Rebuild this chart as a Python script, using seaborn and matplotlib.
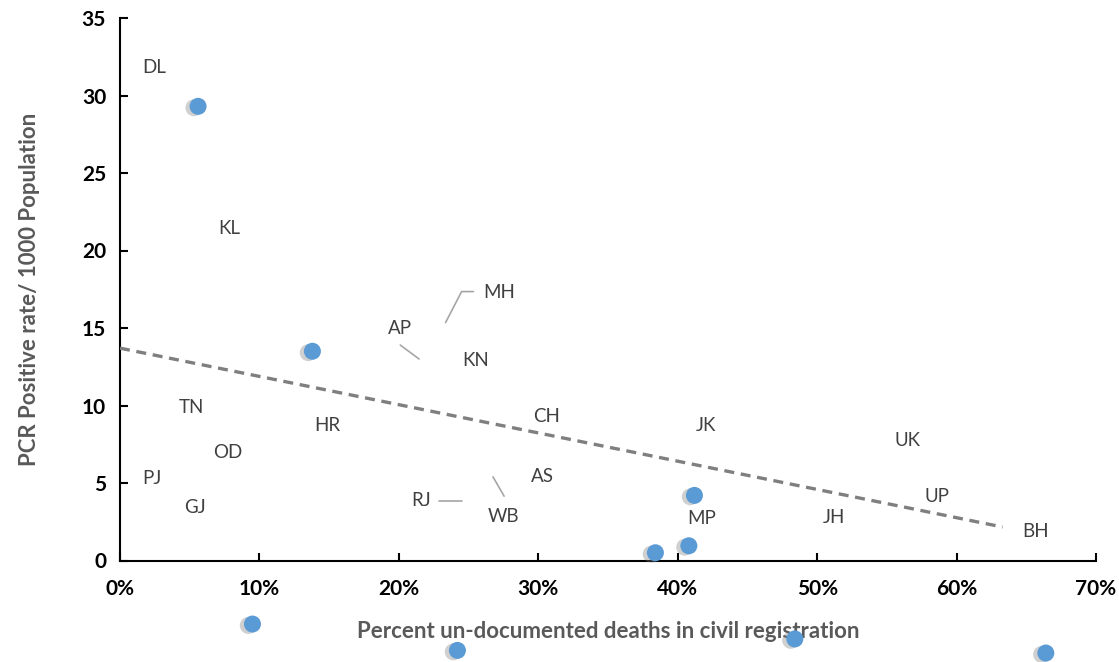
import matplotlib
matplotlib.use("Agg")
import matplotlib.pyplot as plt
import matplotlib.patheffects as pe
from matplotlib.ticker import FuncFormatter
import seaborn as sns
import pandas as pd
import numpy as np

# Marker positions (as drawn in the reference)
point_x = [0.056, 0.138, 0.412, 0.408, 0.384, 0.095, 0.242, 0.484, 0.664]
point_y = [29.3, 13.5, 4.2, 0.95, 0.5, -4.1, -5.8, -5.06, -5.97]

# State labels and their positions
states = ["DL", "KL", "MH", "AP", "KN", "TN", "HR", "CH", "JK", "UK",
          "OD", "PJ", "AS", "UP", "RJ", "GJ", "WB", "MP", "JH", "BH"]
label_x = [0.0244, 0.078, 0.272, 0.201, 0.255, 0.051, 0.1485, 0.306, 0.420, 0.565,
           0.077, 0.023, 0.303, 0.586, 0.216, 0.054, 0.275, 0.417, 0.512, 0.657]
label_y = [31.8, 21.45, 17.3, 15.0, 12.9, 9.84, 8.74, 9.3, 8.68, 7.77,
           6.94, 5.26, 5.45, 4.1, 3.84, 3.39, 2.87, 2.74, 2.8, 1.9]

# Leader lines
leader_MH_x = [0.2335, 0.245, 0.2535]
leader_MH_y = [15.35, 17.35, 17.35]
leader_AP_x = [0.201, 0.2145]
leader_AP_y = [13.9, 13.0]
leader_RJ_x = [0.2285, 0.245]
leader_RJ_y = [3.85, 3.85]
leader_WB_x = [0.2675, 0.2755]
leader_WB_y = [5.4, 4.15]

# Trend line
trend_x = [0.0, 0.633]
trend_y = [13.7, 2.16]

x_ticks = [0, 0.1, 0.2, 0.3, 0.4, 0.5, 0.6, 0.7]
y_ticks = [0, 5, 10, 15, 20, 25, 30, 35]

sns.set_style("white")
plt.rcParams['font.family'] = ['Lato', 'DejaVu Sans']

fig = plt.figure(figsize=(11.19, 6.62), dpi=100)
ax = fig.add_axes([120/1119, 1 - 560.5/662, (1096-120)/1119, (560.5-18)/662])

pts = pd.DataFrame({"x": point_x, "y": point_y})
sns.scatterplot(data=pts, x="x", y="y", ax=ax, s=150, color="#5B9BD5",
                edgecolor="none", clip_on=False, zorder=5,
                path_effects=[pe.SimplePatchShadow(offset=(-3, -1), shadow_rgbFace="#7a7a7a", alpha=0.35),
                              pe.Normal()])

tr = pd.DataFrame({"x": trend_x, "y": trend_y})
sns.lineplot(data=tr, x="x", y="y", ax=ax, color="#7F7F7F", linewidth=2.4,
             linestyle=(0, (3, 2)), zorder=3)

for s, lx, ly in zip(states, label_x, label_y):
    ax.text(lx, ly, s, ha="center", va="center", fontsize=13.5, color="#404040")

for lx, ly in [(leader_MH_x, leader_MH_y), (leader_AP_x, leader_AP_y),
               (leader_RJ_x, leader_RJ_y), (leader_WB_x, leader_WB_y)]:
    ax.plot(lx, ly, color="#A6A6A6", linewidth=1.2)

ax.set_xlim(0, 0.7)
ax.set_ylim(0, 35)
ax.set_xticks(x_ticks)
ax.set_yticks(y_ticks)
ax.xaxis.set_major_formatter(FuncFormatter(lambda v, p: f"{v*100:.0f}%"))
for sp in ["top", "right"]:
    ax.spines[sp].set_visible(False)
for sp in ["left", "bottom"]:
    ax.spines[sp].set_color("black")
    ax.spines[sp].set_linewidth(1.5)
ax.tick_params(axis="both", direction="in", length=6, width=1.5, color="black",
               labelsize=15, labelcolor="black")
ax.tick_params(axis="x", pad=13, bottom=True)
ax.tick_params(axis="y", pad=10, left=True)
for lab in ax.get_xticklabels() + ax.get_yticklabels():
    lab.set_fontweight("bold")

ax.set_xlabel("Percent un-documented deaths in civil registration", fontsize=16,
              fontweight="bold", color="#595959", labelpad=16)
ax.set_ylabel("PCR Positive rate/ 1000 Population", fontsize=16,
              fontweight="bold", color="#595959", labelpad=30)

fig.savefig("out.png", dpi=100)
